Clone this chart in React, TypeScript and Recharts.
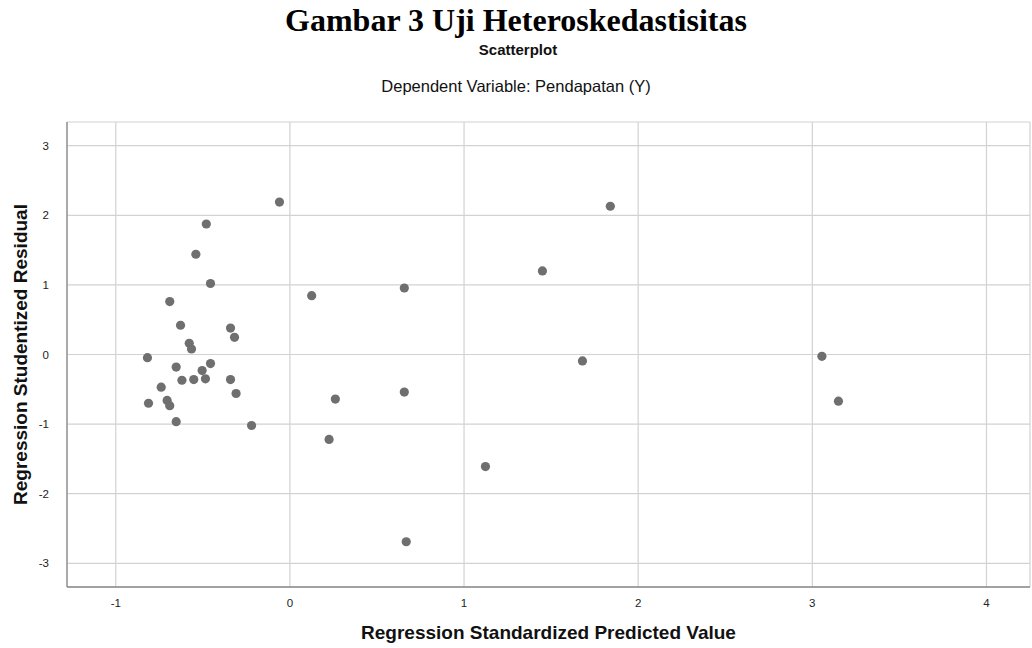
import { ScatterChart, Scatter, XAxis, YAxis, CartesianGrid, Label } from 'recharts'

// Regression Standardized Predicted Value (x) and Studentized Residual (y)
const predicted = [
  -0.06, -0.48, -0.54, -0.456, -0.69, -0.628, -0.341, -0.318, -0.578, -0.565,
  -0.818, -0.653, -0.456, -0.504, -0.62, -0.552, -0.485, -0.341, -0.739, -0.309,
  -0.812, -0.705, -0.69, -0.653, -0.22, 1.84, 1.45, 0.125, 0.657, 1.68,
  0.657, 0.261, 0.225, 1.123, 0.668, 3.055, 3.15,
]
const residual = [
  2.19, 1.875, 1.44, 1.02, 0.76, 0.42, 0.38, 0.247, 0.16, 0.079,
  -0.046, -0.18, -0.13, -0.23, -0.37, -0.36, -0.35, -0.36, -0.47, -0.56,
  -0.7, -0.66, -0.735, -0.965, -1.02, 2.13, 1.2, 0.845, 0.955, -0.093,
  -0.54, -0.64, -1.22, -1.61, -2.69, -0.026, -0.67,
]
const xTicks = [-1, 0, 1, 2, 3, 4]
const yTicks = [-3, -2, -1, 0, 1, 2, 3]

const points = predicted.map((x, i) => ({ x, y: residual[i] }))

const sans = '"Liberation Sans", Arial, sans-serif'
const serif = '"Liberation Serif", "Times New Roman", serif'

const Dot = (props: any) => <circle cx={props.cx} cy={props.cy} r={4.6} fill="#6f6f6f" />

const YTitle = (props: any) => {
  const vb = props.viewBox
  const cx = 20
  const cy = vb.y + vb.height / 2
  return (
    <text
      x={cx}
      y={cy}
      transform={`rotate(-90 ${cx} ${cy})`}
      textAnchor="middle"
      dominantBaseline="central"
      fontFamily={sans}
      fontWeight="bold"
      fontSize={19}
      fill="#111"
    >
      Regression Studentized Residual
    </text>
  )
}

const XTitle = (props: any) => {
  const vb = props.viewBox
  return (
    <text
      x={vb.x + vb.width / 2}
      y={639}
      textAnchor="middle"
      fontFamily={sans}
      fontWeight="bold"
      fontSize={19}
      fill="#111"
    >
      Regression Standardized Predicted Value
    </text>
  )
}

export default function App() {
  return (
    <div style={{ position: 'absolute', left: 0, top: 0, width: 1032, height: 648, background: '#fff' }}>
      <div
        style={{
          position: 'absolute', left: 0, top: 4, width: 1032, textAlign: 'center',
          fontFamily: serif, fontWeight: 'bold', fontSize: 32, lineHeight: '32px', color: '#000',
        }}
      >
        Gambar 3 Uji Heteroskedastisitas
      </div>
      <div
        style={{
          position: 'absolute', left: 2, top: 42, width: 1032, textAlign: 'center',
          fontFamily: sans, fontWeight: 'bold', fontSize: 15, lineHeight: '15px', color: '#111',
        }}
      >
        Scatterplot
      </div>
      <div
        style={{
          position: 'absolute', left: 0, top: 78, width: 1032, textAlign: 'center',
          fontFamily: sans, fontSize: 16.5, lineHeight: '16px', color: '#111',
        }}
      >
        Dependent Variable: Pendapatan (Y)
      </div>
      <div style={{ position: 'absolute', left: 0, top: 0 }}>
        <ScatterChart width={1032} height={648} margin={{ top: 122, right: 2, bottom: 0, left: 0 }}>
          <CartesianGrid stroke="#d2d2d2" strokeWidth={1.2} />
          <XAxis
            type="number"
            dataKey="x"
            domain={[-1.28, 4.25]}
            ticks={xTicks}
            allowDataOverflow
            height={61}
            tickLine={false}
            tickMargin={6}
            axisLine={{ stroke: '#8a8a8a', strokeWidth: 1.3 }}
            tick={{ fontFamily: sans, fontSize: 11.5, fill: '#222' }}
          >
            <Label content={XTitle} />
          </XAxis>
          <YAxis
            type="number"
            dataKey="y"
            domain={[-3.34, 3.34]}
            ticks={yTicks}
            allowDataOverflow
            width={67}
            tickLine={false}
            tickMargin={12}
            axisLine={{ stroke: '#8a8a8a', strokeWidth: 1.3 }}
            tick={{ fontFamily: sans, fontSize: 11.5, fill: '#222' }}
          >
            <Label content={YTitle} />
          </YAxis>
          <Scatter data={points} shape={Dot} isAnimationActive={false} />
        </ScatterChart>
      </div>
    </div>
  )
}
